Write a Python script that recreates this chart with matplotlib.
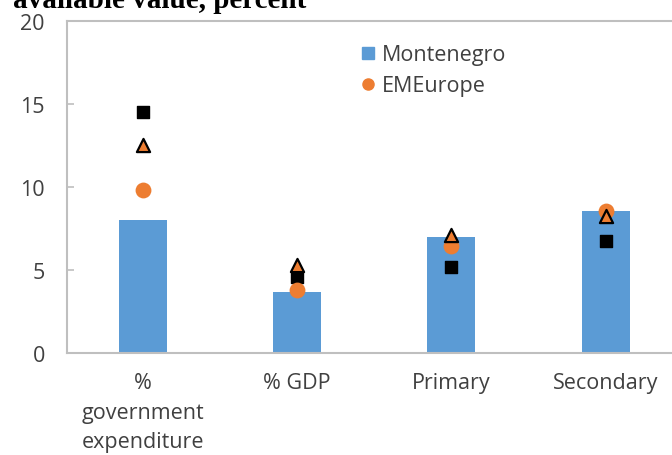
import numpy as np
import matplotlib.pyplot as plt

categories = ["%\ngovernment\nexpenditure", "% GDP", "Primary", "Secondary"]
montenegro = [8.0, 3.7, 7.0, 8.55]
em_europe = [9.8, 3.8, 6.45, 8.55]
triangle_vals = [12.5, 5.3, 7.1, 8.25]
square_vals = [14.5, 4.6, 5.2, 6.75]
yticks = [0, 5, 10, 15, 20]

blue = "#5B9BD5"
orange = "#ED7D31"
grey = "#BFBFBF"
label_col = "#404040"
font = "Open Sans"
fsize = 15.5

fig = plt.figure(figsize=(6.72, 4.56), dpi=100)
ax = fig.add_axes([67 / 672, 102 / 456, 616 / 672, 332 / 456])

x = np.arange(len(categories))
ax.bar(x, montenegro, width=0.31, color=blue, zorder=2, label="Montenegro")
ax.scatter(x, square_vals, marker="s", s=70, color="black", zorder=3)
ax.scatter(x, em_europe, marker="o", s=130, color=orange, linewidths=0,
           zorder=4, label="EMEurope")
ax.scatter(x, triangle_vals, marker="^", s=90, color=orange,
           edgecolors="black", linewidths=1.6, zorder=5)

ax.set_xlim(-0.49, 3.5)
ax.set_ylim(0, 20)
ax.set_yticks(yticks)
ax.set_xticks(x)
ax.set_xticklabels(categories, fontfamily=font, fontsize=fsize,
                   color=label_col, linespacing=1.52)
for lab in ax.get_yticklabels():
    lab.set_fontfamily(font)
    lab.set_fontsize(fsize)
    lab.set_color(label_col)

ax.tick_params(axis="y", direction="in", length=5, width=1.2, color=grey, pad=16)
ax.tick_params(axis="x", length=0, pad=14)
for side in ["left", "bottom", "top"]:
    ax.spines[side].set_color(grey)
    ax.spines[side].set_linewidth(1.5)
ax.spines["right"].set_visible(False)

handles = [
    plt.Line2D([], [], marker="s", linestyle="none", color=blue, markersize=9),
    plt.Line2D([], [], marker="o", linestyle="none", color=orange, markersize=8),
]
fig.legend(handles, ["Montenegro", "EMEurope"], loc="upper left",
           bbox_to_anchor=(338 / 672, 1 - 26 / 456), frameon=False,
           prop={"family": font, "size": fsize}, labelspacing=0.45,
           handletextpad=0.15, handlelength=1.0, labelcolor=label_col)

fig.text(13 / 672, 1 - 8 / 456, "available value, percent", fontfamily="Liberation Serif",
         fontweight="bold", fontsize=21, va="baseline", ha="left")

fig.savefig("out.png", dpi=100)
